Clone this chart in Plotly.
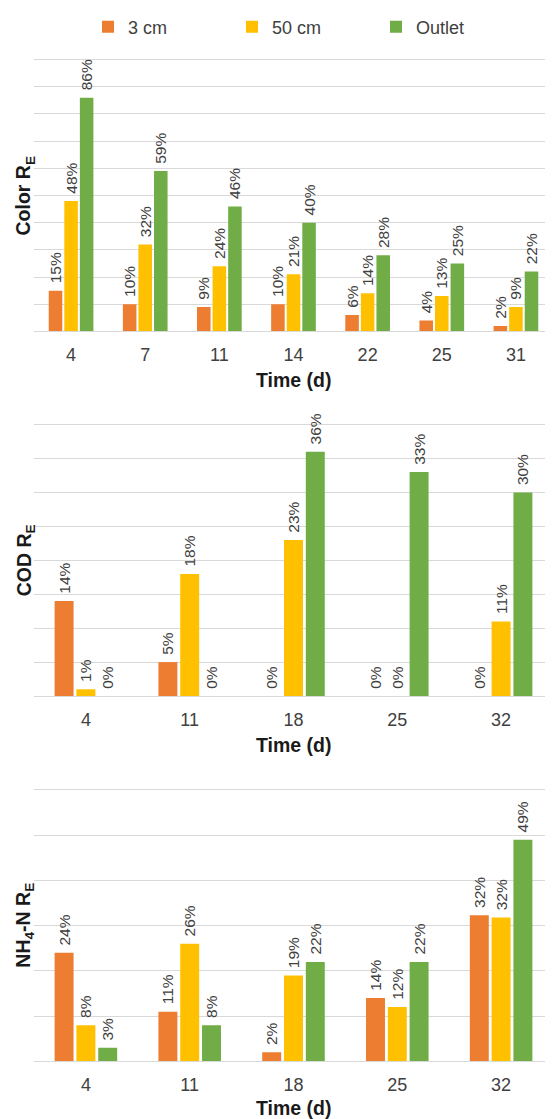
import plotly.graph_objects as go

# ---------------- data ----------------
series_names = ["3 cm", "50 cm", "Outlet"]
series_colors = ["#ED7D31", "#FFC000", "#70AD47"]

color_days = ["4", "7", "11", "14", "22", "25", "31"]
color_3cm = [15, 10, 9, 10, 6, 4, 2]
color_50cm = [48, 32, 24, 21, 14, 13, 9]
color_outlet = [86, 59, 46, 40, 28, 25, 22]

cod_days = ["4", "11", "18", "25", "32"]
cod_3cm = [14, 5, 0, 0, 0]
cod_50cm = [1, 18, 23, 0, 11]
cod_outlet = [0, 0, 36, 33, 30]

nh4_days = ["4", "11", "18", "25", "32"]
nh4_3cm = [24, 11, 2, 14, 32.3]
nh4_50cm = [8, 26, 19, 12, 31.8]
nh4_outlet = [3, 8, 22, 22, 49]

panel_titles = ["<b>Color R<sub>E</sub></b>", "<b>COD R<sub>E</sub></b>",
                "<b>NH<sub>4</sub>-N R<sub>E</sub></b>"]
x_title = "<b>Time (d)</b>"
y_max = [100, 40, 60]
y_dticks = [10, 5, 10]

panels = [
    (color_days, [color_3cm, color_50cm, color_outlet]),
    (cod_days, [cod_3cm, cod_50cm, cod_outlet]),
    (nh4_days, [nh4_3cm, nh4_50cm, nh4_outlet]),
]

# ---------------- layout geometry (pixels, page coordinates) ----------------
PAGE_W, PAGE_H = 553, 1119
OFF = 8                      # default page body margin
W, H = PAGE_W - OFF, PAGE_H - OFF
FONT = "Liberation Sans, Arial, sans-serif"
plot_left = 34
# (top gridline, baseline) of each plot area in page px from top
panel_px = [(57.7, 330.0), (423.3, 695.3), (789.4, 1061.3)]
title_gap = [49, 49, 47]
EXT = 1.01                   # range slightly beyond the top gridline so it is drawn


def py(px):
    return 1 - (px - OFF) / H


def px_x(px):
    return (px - OFF) / W


fig = go.Figure()

for p, (days, vals_list) in enumerate(panels):
    ax = "" if p == 0 else str(p + 1)
    for s, vals in enumerate(vals_list):
        fig.add_trace(go.Bar(
            x=days, y=vals,
            name=series_names[s],
            marker=dict(color=series_colors[s], line=dict(width=0)),
            text=["\u00a0" + f"{round(v)}%" for v in vals],
            textposition="outside",
            textangle=-90,
            textfont=dict(size=15.5, color="#404040", family=FONT),
            cliponaxis=False,
            constraintext="none",
            xaxis="x" + ax, yaxis="y" + ax,
            legendgroup=series_names[s],
            showlegend=(p == 0),
            hoverinfo="skip",
        ))

layout = dict(
    width=W, height=H,
    margin=dict(l=0, r=0, t=0, b=0),
    paper_bgcolor="white", plot_bgcolor="white",
    barmode="group", bargap=0.37, bargroupgap=0.13,
    font=dict(family=FONT, color="#404040"),
    showlegend=True,
    legend=dict(
        orientation="h", x=px_x(88), xanchor="left", y=py(25), yanchor="middle",
        font=dict(size=18, color="#404040", family=FONT),
        entrywidth=99, entrywidthmode="pixels",
        bgcolor="rgba(0,0,0,0)", traceorder="normal",
    ),
)

annotations = []
for p in range(3):
    ax = "" if p == 0 else str(p + 1)
    top, base = panel_px[p]
    top_ext = base - (base - top) * EXT
    layout["xaxis" + ax] = dict(
        domain=[px_x(plot_left), 1.0], anchor="y" + ax,
        type="category", showgrid=False, zeroline=False,
        showline=True, linecolor="#D9D9D9", linewidth=1,
        ticks="", ticklabelstandoff=7,
        tickfont=dict(size=18, color="#404040", family=FONT),
        fixedrange=True,
    )
    layout["yaxis" + ax] = dict(
        domain=[py(base), py(top_ext)], anchor="x" + ax,
        range=[0, y_max[p] * EXT], dtick=y_dticks[p], tick0=0,
        showgrid=True, gridcolor="#D9D9D9", gridwidth=1,
        zeroline=False, showline=False, showticklabels=False, ticks="",
        fixedrange=True,
    )
    annotations.append(dict(
        text=x_title, xref="paper", yref="paper",
        x=px_x((plot_left + PAGE_W) / 2), y=py(base + title_gap[p]),
        xanchor="center", yanchor="middle", showarrow=False,
        font=dict(size=19.5, color="#1a1a1a", family=FONT),
    ))
    annotations.append(dict(
        text=panel_titles[p], xref="paper", yref="paper",
        x=px_x(25), y=py((top + base) / 2),
        xanchor="center", yanchor="middle", showarrow=False, textangle=-90,
        font=dict(size=19.5, color="#1a1a1a", family=FONT),
    ))
layout["annotations"] = annotations

fig.update_layout(**layout)
fig.write_html("out.html")
